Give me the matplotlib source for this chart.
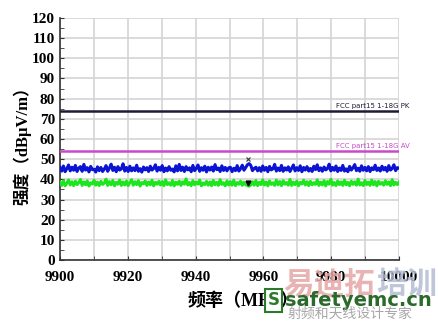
import numpy as np
import matplotlib
matplotlib.use("Agg")
import matplotlib.pyplot as plt
from matplotlib.ticker import MultipleLocator

# sweep 9900..10000 MHz, levels in dBuV/m
f_start = 9900
f_stop = 10000

pk_limit = 74
av_limit = 54
pk_label = "FCC part15 1-18G PK"
av_label = "FCC part15 1-18G AV"

blue = [45.9, 44.1, 46.6, 43.8, 45.3, 47.1, 44.2, 46.0, 44.5, 46.9,
        43.9, 45.6, 46.3, 44.0, 47.4, 44.6, 45.8, 43.7, 46.4, 44.8,
        45.0, 43.6, 46.2, 44.3, 45.9, 43.9, 45.1, 46.8, 44.0, 45.6,
        47.5, 44.4, 46.0, 43.8, 46.3, 44.6, 45.2, 47.7, 44.1, 45.9,
        43.9, 46.5, 44.2, 45.7, 44.3, 47.0, 44.0, 45.3, 43.6, 46.1,
        44.7, 45.8, 43.9, 46.5, 44.6, 45.4, 47.2, 44.1, 45.9, 44.5,
        46.8, 43.8, 45.6, 44.2, 46.3, 44.5, 45.1, 43.7, 46.7, 44.2,
        47.4, 44.4, 46.0, 43.9, 46.3, 44.7, 45.7, 43.8, 46.9, 44.3,
        45.4, 47.1, 44.0, 45.8, 44.5, 46.5, 43.7, 46.0, 44.6, 46.1,
        44.1, 47.3, 44.8, 45.6, 43.9, 46.7, 44.4, 45.9, 44.2, 45.7,
        46.0, 43.8, 45.5, 44.3, 46.8, 44.1, 45.3, 47.0, 44.5, 45.9,
        47.2, 47.8, 46.9, 44.3, 45.4, 46.0, 44.2, 45.8, 44.0, 46.6,
        44.5, 45.9, 43.8, 46.4, 44.7, 45.2, 47.4, 44.1, 45.6, 44.3,
        46.9, 44.0, 45.7, 44.6, 46.2, 43.9, 45.5, 47.1, 44.2, 45.8,
        44.4, 46.7, 43.8, 45.9, 44.6, 46.3, 44.1, 45.4, 43.9, 46.5,
        44.8, 47.2, 44.3, 45.7, 44.0, 46.1, 44.7, 45.3, 47.5, 44.2,
        45.9, 44.5, 46.6, 43.9, 45.6, 44.4, 46.9, 44.1, 45.2, 43.8,
        46.4, 44.6, 45.8, 47.3, 44.3, 45.5, 44.0, 46.7, 44.5, 45.9,
        44.2, 46.3, 43.9, 45.7, 44.8, 47.0, 44.4, 45.6, 44.1, 46.5,
        44.7, 45.9, 44.0, 46.8, 44.6, 45.4, 47.2, 44.3, 45.8, 45.5]

green = [38.5, 37.0, 39.3, 36.8, 38.1, 39.7, 37.2, 38.8, 36.9, 39.1,
         37.4, 38.4, 39.9, 37.0, 38.7, 37.3, 39.2, 36.7, 38.3, 37.7,
         39.5, 37.1, 38.6, 36.9, 39.0, 37.5, 38.2, 40.1, 37.0, 38.9,
         37.3, 39.4, 36.8, 38.5, 37.6, 39.6, 37.0, 38.7, 37.2, 39.1,
         36.9, 38.3, 39.8, 37.1, 38.8, 37.4, 39.3, 36.7, 38.4, 37.8,
         39.2, 37.0, 38.7, 37.3, 39.5, 36.8, 38.5, 37.6, 39.0, 37.2,
         38.9, 36.9, 39.7, 37.4, 38.3, 37.1, 39.4, 36.8, 38.6, 37.5,
         39.1, 37.0, 38.8, 37.6, 40.2, 37.2, 38.4, 36.9, 39.3, 37.3,
         38.6, 37.7, 39.6, 36.8, 38.2, 37.4, 39.0, 37.1, 38.7, 36.9,
         39.4, 37.3, 38.5, 37.0, 39.8, 37.5, 38.3, 36.8, 39.2, 37.2,
         38.9, 37.1, 39.5, 36.9, 38.4, 37.6, 39.1, 37.0, 38.6, 37.3,
         37.0, 36.6, 37.2, 38.8, 37.1, 39.4, 36.9, 38.5, 37.4, 39.7,
         37.2, 38.7, 36.8, 39.2, 37.5, 38.3, 37.0, 39.6, 37.3, 38.9,
         36.9, 39.3, 37.6, 38.4, 37.1, 39.9, 37.0, 38.6, 37.4, 39.1,
         36.8, 38.5, 37.7, 39.5, 37.2, 38.8, 36.9, 39.0, 37.3, 38.3,
         37.5, 39.7, 37.0, 38.6, 37.2, 39.3, 36.8, 38.9, 37.6, 40.0,
         37.1, 38.4, 36.9, 39.2, 37.4, 38.7, 37.0, 39.5, 37.3, 38.5,
         36.8, 39.1, 37.5, 38.8, 37.1, 40.1, 37.2, 38.3, 36.9, 39.4,
         37.4, 38.6, 37.0, 39.6, 37.3, 38.9, 36.8, 39.0, 37.6, 38.4,
         37.1, 39.3, 37.5, 38.7, 36.9, 39.8, 37.2, 38.5, 37.4, 38.6]

mark_f = 9955.5
mark_pk = 50
mark_av = 38.2

freq = np.linspace(f_start, f_stop, len(blue))

plt.rcParams['font.family'] = ['Liberation Serif', 'Noto Sans CJK SC']
fig = plt.figure(figsize=(4.39, 3.21), dpi=100)
ax = fig.add_axes([0.1367, 0.19, 0.7722, 0.754])

ax.plot(freq, green, color='#1ee61e', lw=2.2, zorder=3)
ax.plot(freq, blue, color='#0a14d2', lw=2.2, zorder=3)
ax.axhline(pk_limit, color='#1c1c34', lw=1.8, zorder=4)
ax.axhline(av_limit, color='#c84ac8', lw=1.8, zorder=4)
ax.plot([mark_f], [mark_pk], 'x', color='#333333', ms=3, mew=0.8, zorder=5)
ax.plot([mark_f], [mark_av], 'v', color='black', ms=3.5, zorder=5)

ax.text(9981.5, pk_limit + 0.8, pk_label, fontsize=5, family='DejaVu Sans',
        color='#1c1c34', va='bottom', clip_on=False)
ax.text(9981.5, av_limit + 0.8, av_label, fontsize=5, family='DejaVu Sans',
        color='#c84ac8', va='bottom', clip_on=False)

ax.set_xlim(f_start, f_stop)
ax.set_ylim(0, 120)
ax.xaxis.set_major_locator(MultipleLocator(20))
ax.xaxis.set_minor_locator(MultipleLocator(10))
ax.yaxis.set_major_locator(MultipleLocator(10))
ax.yaxis.set_minor_locator(MultipleLocator(5))
ax.grid(which='major', color='#d4d4d4', lw=1.2)
ax.grid(which='minor', axis='x', color='#d4d4d4', lw=1.2)
ax.set_axisbelow(True)
for s in ['top', 'right']:
    ax.spines[s].set_visible(False)
for s in ['left', 'bottom']:
    ax.spines[s].set_color('#333333')
    ax.spines[s].set_linewidth(1.2)
ax.tick_params(which='both', direction='in', length=3, color='#333333')
ax.tick_params(axis='both', labelsize=11)
ax.tick_params(axis='x', pad=8)
for lab in ax.get_xticklabels() + ax.get_yticklabels():
    lab.set_fontweight('bold')

ax.set_ylabel('强度（dBμV/m）', fontsize=12, fontweight='bold')
ax.yaxis.set_label_coords(-0.085, 0.49)
ax.set_xlabel('频率（MHz）', fontsize=13, fontweight='bold')
ax.xaxis.set_label_coords(0.54, -0.135)

# watermark
fig.text(0.645, 0.112, '易迪拓', fontsize=22, color='#e6a6a6', family='Noto Sans CJK SC',
         fontweight='bold', va='center', ha='left', alpha=0.85)
fig.text(0.857, 0.112, '培训', fontsize=22, color='#b4bcd4', family='Noto Sans CJK SC',
         fontweight='bold', va='center', ha='left', alpha=0.85)
fig.text(0.61, 0.065, 'S', fontsize=12, color='#2a7a2a', family='DejaVu Sans',
         fontweight='bold', va='center', ha='left',
         bbox=dict(boxstyle='square,pad=0.15', fc='white', ec='#2a7a2a', lw=1.5))
fig.text(0.65, 0.065, 'safetyemc.cn', fontsize=14, color='#2a6a2a', family='DejaVu Sans',
         fontweight='bold', va='center', ha='left')
fig.text(0.655, 0.022, '射频和天线设计专家', fontsize=10, color='#a8a8a8',
         family='Noto Sans CJK SC', va='center', ha='left')

fig.savefig('out.png', dpi=100)
